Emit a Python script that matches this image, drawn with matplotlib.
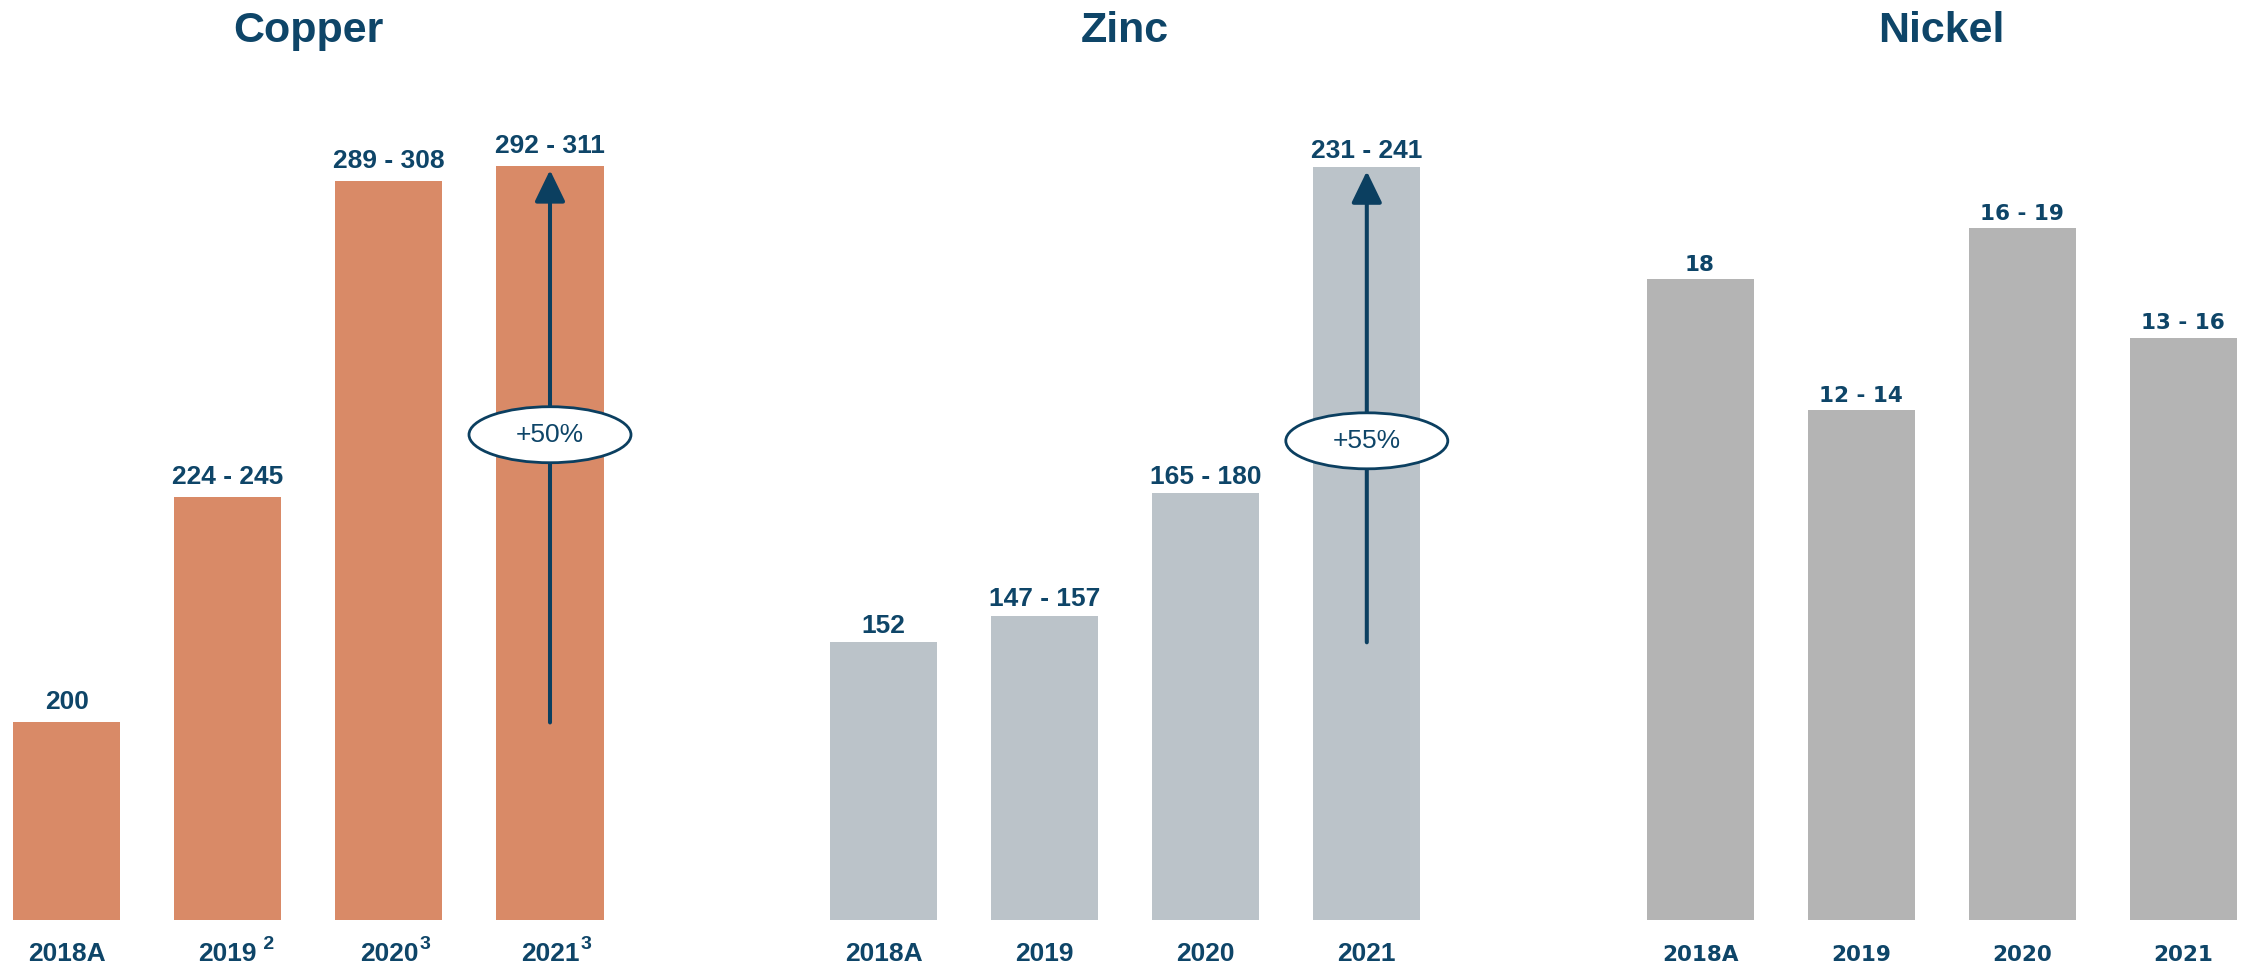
import matplotlib
matplotlib.use("Agg")
import matplotlib.pyplot as plt
from matplotlib.patches import Ellipse
from matplotlib.transforms import ScaledTranslation

# ---------------- data ----------------
years = ["2018A", "2019", "2020", "2021"]

copper_low = [200, 224, 289, 292]
copper_high = [200, 245, 308, 311]
copper_sup = ["", " 2", "3", "3"]

zinc_low = [152, 147, 165, 231]
zinc_high = [152, 157, 180, 241]
zinc_sup = ["", "", "", ""]

nickel_low = [18, 12, 16, 13]
nickel_high = [18, 14, 19, 16]
nickel_bar = [17.6, 14, 19, 16]   # bar heights as drawn
nickel_sup = ["", "", "", ""]

titles = ["Copper", "Zinc", "Nickel"]
growth_labels = ["+50%", "+55%", None]

# ---------------- style ----------------
W, H = 2241, 966
NAVY = "#0E4568"
ARROW = "#0B3F60"
colors = ["#D98A67", "#BBC3C9", "#B4B4B4"]
slot = 161.1                     # px per bar slot
first_center = [66.7, 883.5, 1700.0]
ax_bottom_px, ax_top_px = 920, 60
ylims = [(160.6, 160.6 + 860 / 5.014), (100, 100 + 860 / 5.34), (0, 860 / 36.4)]
label_fonts = ["Liberation Sans", "Liberation Sans", "DejaVu Sans"]
label_sizes = [19, 19, 15.5]
label_gap = [9.5, 6.6, 6.3]
ellipse_frac = [0.517, 0.424, None]

fig = plt.figure(figsize=(W / 100, H / 100), dpi=100)

panels = [
    (copper_low, copper_high, copper_high, copper_sup),
    (zinc_low, zinc_high, zinc_high, zinc_sup),
    (nickel_low, nickel_high, nickel_bar, nickel_sup),
]

for p, (lo, hi, bars, sup) in enumerate(panels):
    left = (first_center[p] - 0.5 * slot) / W
    ax = fig.add_axes([left, (H - ax_bottom_px) / H, 4 * slot / W,
                       (ax_bottom_px - ax_top_px) / H])
    x = list(range(len(years)))
    ax.bar(x, bars, width=107 / slot, color=colors[p], zorder=1)
    ax.set_xlim(-0.5, 3.5)
    ax.set_ylim(*ylims[p])
    ax.axis("off")

    fam = label_fonts[p]
    # value labels
    for i in x:
        txt = f"{hi[i]}" if lo[i] == hi[i] else f"{lo[i]} - {hi[i]}"
        ax.annotate(txt, xy=(i, bars[i]), xytext=(0, label_gap[p]),
                    textcoords="offset points", ha="center", va="baseline",
                    fontsize=label_sizes[p], fontweight="bold", color=NAVY,
                    family=fam, annotation_clip=False)
    # x labels
    for i in x:
        t = ax.annotate(years[i], xy=(i, 0), xycoords=("data", "axes fraction"),
                        xytext=(0, -29.5), textcoords="offset points",
                        ha="center", va="baseline", fontsize=label_sizes[p],
                        fontweight="bold", color=NAVY, family=fam,
                        annotation_clip=False)
        if sup[i]:
            ax.annotate(sup[i], xy=(1, 1), xycoords=t, xytext=(1, 4.5),
                        textcoords="offset points", ha="left", va="top",
                        fontsize=14, fontweight="bold", color=NAVY,
                        family=fam, annotation_clip=False)
    # title
    ax.annotate(titles[p], xy=(0.5, 1), xycoords="axes fraction",
                xytext=(0, 13.2), textcoords="offset points", ha="center",
                va="baseline", fontsize=31, fontweight="bold", color=NAVY,
                family="Liberation Sans", annotation_clip=False)

    # growth arrow + ellipse
    if growth_labels[p]:
        ax.annotate("", xy=(3, hi[3]), xytext=(3, hi[0]),
                    arrowprops=dict(arrowstyle="-|>,head_length=0.97,head_width=0.47",
                                    mutation_scale=20, lw=2.9, color=ARROW,
                                    shrinkA=0, shrinkB=3),
                    annotation_clip=False, zorder=3)
        yc = hi[0] + ellipse_frac[p] * (hi[3] - hi[0])
        trans = fig.dpi_scale_trans + ScaledTranslation(3, yc, ax.transData)
        e = Ellipse((0, 0), 1.62, 0.56, transform=trans, facecolor="white",
                    edgecolor=ARROW, lw=2.0, zorder=4, clip_on=False)
        ax.add_patch(e)
        ax.text(3, yc, growth_labels[p], ha="center", va="center", fontsize=19,
                color=NAVY, family="Liberation Sans", zorder=5)

fig.savefig("out.png", dpi=100, facecolor="white")
